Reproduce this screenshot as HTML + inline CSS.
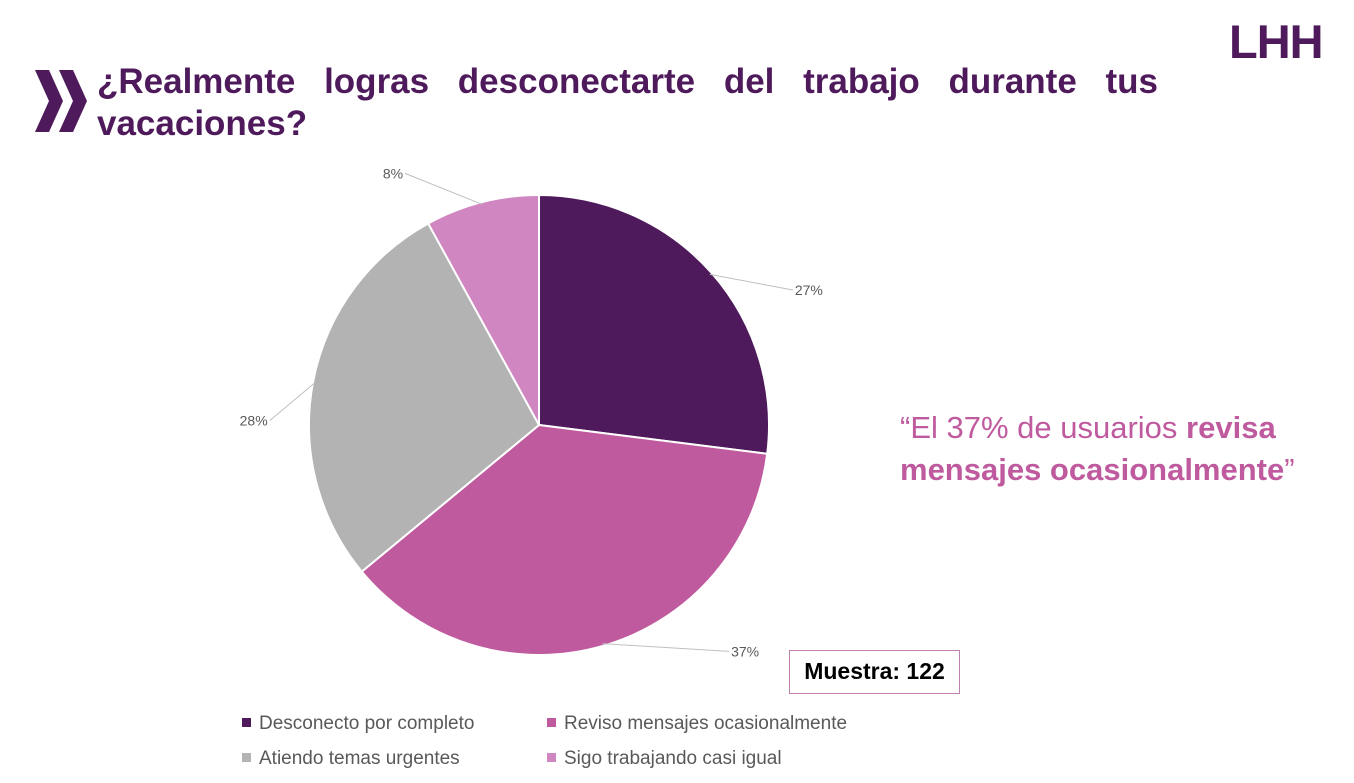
<!DOCTYPE html>
<html><head><meta charset="utf-8"><style>
body{margin:0;width:1354px;height:783px;background:#fff;overflow:hidden;position:relative;font-family:"Liberation Sans",sans-serif}
.t{position:absolute;left:97px;width:1061px;color:#4e1a5b;font-weight:bold;font-size:35px;line-height:42px}
.t1{top:61px;text-align:justify;text-align-last:justify}
.t2{top:103px}
.logo{position:absolute;left:1229px;top:14px;font-size:47px;font-weight:bold;color:#4e1a5b;letter-spacing:-1px}
.quote{position:absolute;left:900px;top:407px;font-size:31px;line-height:42px;color:#c05a9e}
.box{position:absolute;left:789px;top:650px;width:171px;height:44px;border:1.5px solid #c080b0;box-sizing:border-box;font-weight:bold;font-size:23px;line-height:41px;text-align:center}
.leg{position:absolute;font-size:19px;color:#595959}
.leg i{display:inline-block;width:9px;height:9px;margin-right:8px;vertical-align:2px}
</style></head><body>
<svg style="position:absolute;left:33px;top:70px" width="56" height="62"><polygon points="2,0 16,0 30,31 16,62 2,62 16,31" fill="#4e1a5b"/><polygon points="26,0 40,0 54,31 40,62 26,62 40,31" fill="#4e1a5b"/></svg>
<div class="t t1">¿Realmente logras desconectarte del trabajo durante tus</div>
<div class="t t2">vacaciones?</div>
<div class="logo">LHH</div>
<svg id="pie" style="position:absolute;left:0;top:0" width="1354" height="783"></svg>
<div class="quote">“El 37% de usuarios <b>revisa<br>mensajes ocasionalmente</b>”</div>
<div class="box">Muestra: 122</div>
<div class="leg" style="left:242px;top:713px"><i style="background:#4e1a5b"></i>Desconecto por completo</div>
<div class="leg" style="left:547px;top:713px"><i style="background:#c05a9e"></i>Reviso mensajes ocasionalmente</div>
<div class="leg" style="left:242px;top:748px"><i style="background:#b3b3b3"></i>Atiendo temas urgentes</div>
<div class="leg" style="left:547px;top:748px"><i style="background:#d086c0"></i>Sigo trabajando casi igual</div>
<script>
const categories=["Desconecto por completo","Reviso mensajes ocasionalmente","Atiendo temas urgentes","Sigo trabajando casi igual"];
const values=[27,37,28,8];
const labels=["27%","37%","28%","8%"];
const colors=["#4e1a5b","#c05a9e","#b3b3b3","#d086c0"];
const nudgeX=[52,115,-5,-67];
const nudgeY=[48,-27,51,14];
const svg=document.getElementById('pie');const NS="http://www.w3.org/2000/svg";
const cx=539,cy=425,r=230;const tot=values.reduce((a,b)=>a+b,0);
let a0=-Math.PI/2;
function pt(a,rr){return [cx+rr*Math.cos(a),cy+rr*Math.sin(a)];}
values.forEach((v,i)=>{
 const a1=a0+v/tot*2*Math.PI;const p0=pt(a0,r),p1=pt(a1,r);
 const p=document.createElementNS(NS,'path');
 p.setAttribute('d',`M${cx},${cy}L${p0[0]},${p0[1]}A${r},${r} 0 ${a1-a0>Math.PI?1:0} 1 ${p1[0]},${p1[1]}Z`);
 p.setAttribute('fill',colors[i]);p.setAttribute('stroke','#fff');p.setAttribute('stroke-width','2');
 
 
 svg.appendChild(p);
 const am=(a0+a1)/2;const e=pt(am,r*0.99);const o0=pt(am,r*1.17);const right=Math.cos(am)>=0;
 const o=[o0[0]+nudgeX[i],o0[1]+nudgeY[i]-5];
 const l=document.createElementNS(NS,'polyline');
 l.setAttribute('points',`${e[0]},${e[1]} ${o[0]},${o[1]}`);
 l.setAttribute('fill','none');l.setAttribute('stroke','#bfbfbf');l.setAttribute('stroke-width','1');
 
 
 svg.appendChild(l);
 const t=document.createElementNS(NS,'text');
 t.setAttribute('x',o[0]+(right?2:-2));t.setAttribute('y',o[1]+5);
 t.setAttribute('text-anchor',right?'start':'end');t.setAttribute('font-size','14');t.setAttribute('fill','#595959');
 t.setAttribute('font-family','Liberation Sans, sans-serif');t.textContent=labels[i];
 
 
 svg.appendChild(t);
 a0=a1;
});
</script>
</body></html>
